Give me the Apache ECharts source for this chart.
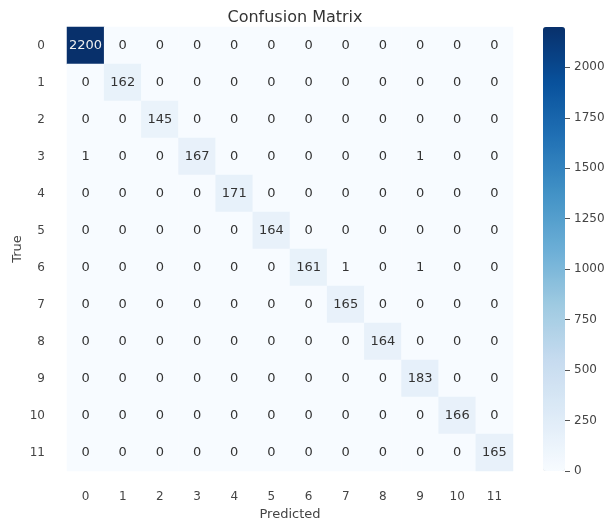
<!DOCTYPE html>
<html>
<head>
<meta charset="utf-8">
<script src="https://cdn.jsdelivr.net/npm/echarts@6/dist/echarts.min.js"></script>
<style>
  html, body { margin: 0; padding: 0; background: #ffffff; }
  #chart { width: 610px; height: 523px; }
</style>
</head>
<body>
<div id="chart"></div>
<script>
// Class labels (rows = true class, columns = predicted class)
const classes = ['0', '1', '2', '3', '4', '5', '6', '7', '8', '9', '10', '11'];

// Confusion matrix counts, one array per true class
const row0  = [2200, 0, 0, 0, 0, 0, 0, 0, 0, 0, 0, 0];
const row1  = [0, 162, 0, 0, 0, 0, 0, 0, 0, 0, 0, 0];
const row2  = [0, 0, 145, 0, 0, 0, 0, 0, 0, 0, 0, 0];
const row3  = [1, 0, 0, 167, 0, 0, 0, 0, 0, 1, 0, 0];
const row4  = [0, 0, 0, 0, 171, 0, 0, 0, 0, 0, 0, 0];
const row5  = [0, 0, 0, 0, 0, 164, 0, 0, 0, 0, 0, 0];
const row6  = [0, 0, 0, 0, 0, 0, 161, 1, 0, 1, 0, 0];
const row7  = [0, 0, 0, 0, 0, 0, 0, 165, 0, 0, 0, 0];
const row8  = [0, 0, 0, 0, 0, 0, 0, 0, 164, 0, 0, 0];
const row9  = [0, 0, 0, 0, 0, 0, 0, 0, 0, 183, 0, 0];
const row10 = [0, 0, 0, 0, 0, 0, 0, 0, 0, 0, 166, 0];
const row11 = [0, 0, 0, 0, 0, 0, 0, 0, 0, 0, 0, 165];

// Colour bar range and its tick labels
const colorMin = 0;
const colorMax = 2200;
const colorStep = 250;
const colorTicks = [0, 250, 500, 750, 1000, 1250, 1500, 1750, 2000];

const matrix = [row0, row1, row2, row3, row4, row5, row6, row7, row8, row9, row10, row11];

// Sequential blue palette
const blues = ['#f7fbff', '#deebf7', '#c6dbef', '#9ecae1', '#6baed6',
               '#4292c6', '#2171b5', '#08519c', '#08306b'];

const cells = [];
matrix.forEach((row, r) => {
  row.forEach((v, c) => {
    cells.push({
      value: [c, r, v],
      label: { color: v > colorMax * 0.5 ? '#f0f0f0' : '#333333' }
    });
  });
});

const fontFamily = '"DejaVu Sans", sans-serif';
const chart = echarts.init(document.getElementById('chart'), null, { renderer: 'canvas' });

chart.setOption({
  backgroundColor: '#ffffff',
  animation: false,
  textStyle: { fontFamily: fontFamily },
  title: {
    text: 'Confusion Matrix',
    left: 290,
    textAlign: 'center',
    top: 5,
    textStyle: { fontFamily: fontFamily, fontSize: 16, fontWeight: 'normal', color: '#333333' }
  },
  grid: [
    { left: 67, top: 27, width: 446, height: 444, outerBoundsMode: 'none', containLabel: false },
    { left: 543, top: 27, width: 22, height: 444, outerBoundsMode: 'none', containLabel: false }
  ],
  xAxis: [
    {
      gridIndex: 0,
      type: 'category',
      data: classes,
      position: 'bottom',
      axisLine: { show: false },
      axisTick: { show: false },
      axisLabel: { margin: 20, fontSize: 12, color: '#444444', fontFamily: fontFamily },
      splitLine: { show: false },
      name: 'Predicted',
      nameLocation: 'middle',
      nameGap: 37,
      nameMoveOverlap: false,
      nameTextStyle: { fontSize: 13, color: '#444444', fontFamily: fontFamily }
    },
    {
      gridIndex: 1,
      type: 'value',
      show: false,
      min: 0,
      max: 1
    }
  ],
  yAxis: [
    {
      gridIndex: 0,
      type: 'category',
      data: classes,
      inverse: true,
      axisLine: { show: false },
      axisTick: { show: false },
      axisLabel: { margin: 22, fontSize: 12, color: '#444444', fontFamily: fontFamily },
      splitLine: { show: false },
      name: 'True',
      nameLocation: 'middle',
      nameGap: 43,
      nameMoveOverlap: false,
      nameRotate: 90,
      nameTextStyle: { fontSize: 13, color: '#444444', fontFamily: fontFamily }
    },
    {
      gridIndex: 1,
      type: 'value',
      position: 'right',
      min: colorMin,
      max: colorMax,
      interval: colorStep,
      z: 10,
      axisLine: { show: false, onZero: false },
      axisTick: { show: true, inside: false, length: 5, lineStyle: { color: '#555555', width: 1 } },
      axisLabel: {
        margin: 9,
        fontSize: 12,
        color: '#444444',
        fontFamily: fontFamily,
        showMaxLabel: false,
        formatter: v => (colorTicks.indexOf(v) >= 0 ? String(v) : '')
      },
      splitLine: { show: false }
    }
  ],
  visualMap: {
    type: 'continuous',
    min: colorMin,
    max: colorMax,
    calculable: false,
    hoverLink: false,
    orient: 'vertical',
    left: 543,
    top: 27,
    padding: 0,
    itemWidth: 22,
    itemHeight: 444,
    text: null,
    seriesIndex: 0,
    inRange: { color: blues }
  },
  series: [
    {
      type: 'heatmap',
      xAxisIndex: 0,
      yAxisIndex: 0,
      data: cells,
      label: {
        show: true,
        fontSize: 13,
        fontFamily: fontFamily,
        formatter: p => String(p.value[2])
      },
      itemStyle: { borderWidth: 0 },
      emphasis: { disabled: true }
    }
  ]
});
</script>
</body>
</html>
